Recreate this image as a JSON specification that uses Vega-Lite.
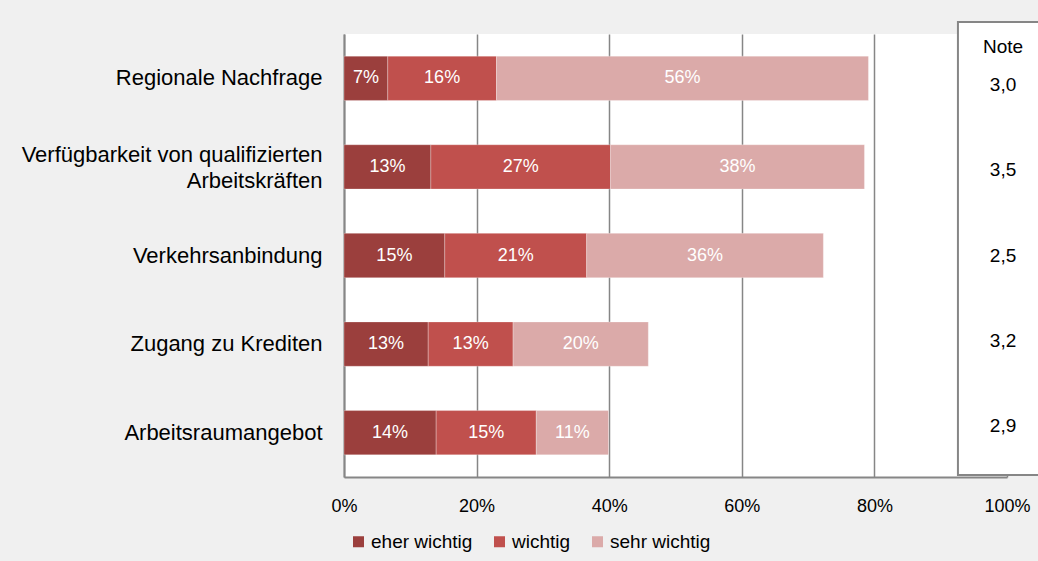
{
  "$schema": "https://vega.github.io/schema/vega-lite/v6.json",
  "width": 663,
  "height": 443,
  "autosize": {"type": "none"},
  "padding": {"left": 344, "top": 34, "right": 31, "bottom": 84},
  "background": "#f0f0f0",
  "config": {
    "view": {"fill": "white", "stroke": null},
    "font": "Liberation Sans",
    "text": {"font": "Liberation Sans"}
  },
  "datasets": {
    "bars": [
      {"category": "Regionale Nachfrage", "level": "eher wichtig", "rank": 1, "value": 0.066},
      {"category": "Regionale Nachfrage", "level": "wichtig", "rank": 2, "value": 0.164},
      {"category": "Regionale Nachfrage", "level": "sehr wichtig", "rank": 3, "value": 0.561},
      {"category": "Verfügbarkeit von qualifizierten Arbeitskräften", "level": "eher wichtig", "rank": 1, "value": 0.131},
      {"category": "Verfügbarkeit von qualifizierten Arbeitskräften", "level": "wichtig", "rank": 2, "value": 0.271},
      {"category": "Verfügbarkeit von qualifizierten Arbeitskräften", "level": "sehr wichtig", "rank": 3, "value": 0.383},
      {"category": "Verkehrsanbindung", "level": "eher wichtig", "rank": 1, "value": 0.152},
      {"category": "Verkehrsanbindung", "level": "wichtig", "rank": 2, "value": 0.214},
      {"category": "Verkehrsanbindung", "level": "sehr wichtig", "rank": 3, "value": 0.357},
      {"category": "Zugang zu Krediten", "level": "eher wichtig", "rank": 1, "value": 0.127},
      {"category": "Zugang zu Krediten", "level": "wichtig", "rank": 2, "value": 0.128},
      {"category": "Zugang zu Krediten", "level": "sehr wichtig", "rank": 3, "value": 0.204},
      {"category": "Arbeitsraumangebot", "level": "eher wichtig", "rank": 1, "value": 0.139},
      {"category": "Arbeitsraumangebot", "level": "wichtig", "rank": 2, "value": 0.151},
      {"category": "Arbeitsraumangebot", "level": "sehr wichtig", "rank": 3, "value": 0.109}
    ],
    "notes": [
      {"category": "Regionale Nachfrage", "note": "3,0"},
      {"category": "Verfügbarkeit von qualifizierten Arbeitskräften", "note": "3,5"},
      {"category": "Verkehrsanbindung", "note": "2,5"},
      {"category": "Zugang zu Krediten", "note": "3,2"},
      {"category": "Arbeitsraumangebot", "note": "2,9"}
    ]
  },
  "layer": [
    {
      "data": {"name": "bars"},
      "transform": [
        {"stack": "value", "groupby": ["category"], "sort": [{"field": "rank", "order": "ascending"}], "as": ["v0", "v1"]},
        {"calculate": "(datum.v0 + datum.v1) / 2", "as": "mid"}
      ],
      "encoding": {
        "y": {
          "field": "category",
          "type": "nominal",
          "sort": null,
          "scale": {"paddingInner": 0.5, "paddingOuter": 0.25},
          "axis": {
            "title": null,
            "domain": true,
            "domainColor": "#868686",
            "domainWidth": 2,
            "ticks": false,
            "grid": false,
            "labelFontSize": 22,
            "labelColor": "black",
            "labelPadding": 22,
            "labelLineHeight": 26,
            "labelLimit": 400,
            "labelOffset": {"condition": {"test": "datum.value == 'Verfügbarkeit von qualifizierten Arbeitskräften'", "value": -12}, "value": 0},
            "labelExpr": "datum.value == 'Verfügbarkeit von qualifizierten Arbeitskräften' ? ['Verfügbarkeit von qualifizierten', 'Arbeitskräften'] : datum.label"
          }
        }
      },
      "layer": [
        {
          "mark": {"type": "bar", "stroke": "white", "strokeWidth": 0.8, "strokeOpacity": 0.35},
          "encoding": {
            "x": {
              "field": "v0",
              "type": "quantitative",
              "scale": {"domain": [0, 1], "nice": false},
              "axis": {
                "title": null,
                "format": ".0%",
                "values": [0, 0.2, 0.4, 0.6, 0.8, 1],
                "grid": true,
                "gridColor": "#868686",
                "gridWidth": 1.5,
                "domain": true,
                "domainColor": "#868686",
                "domainWidth": 2,
                "ticks": false,
                "labelFontSize": 18,
                "labelColor": "black",
                "labelPadding": 20,
                "labelFlush": false
              }
            },
            "x2": {"field": "v1"},
            "color": {
              "field": "level",
              "type": "nominal",
              "scale": {"domain": ["eher wichtig", "wichtig", "sehr wichtig"], "range": ["#9b3f3d", "#c0504d", "#dbaaa9"]},
              "legend": {
                "orient": "none",
                "legendX": 5,
                "legendY": 498,
                "direction": "horizontal",
                "title": null,
                "symbolType": "square",
                "symbolSize": 121,
                "symbolStrokeWidth": 0,
                "labelFontSize": 19,
                "labelColor": "black",
                "columnPadding": 17,
                "labelOffset": 3
              }
            }
          }
        },
        {
          "mark": {"type": "text", "color": "white", "fontSize": 18, "align": "center", "baseline": "middle"},
          "encoding": {
            "x": {"field": "mid", "type": "quantitative", "scale": {"domain": [0, 1], "nice": false}},
            "text": {"field": "value", "type": "quantitative", "format": ".0%"}
          }
        }
      ]
    },
    {
      "data": {"values": [{}]},
      "layer": [
        {
          "mark": {"type": "rect", "fill": "white", "stroke": "#868686", "strokeWidth": 2},
          "encoding": {
            "x": {"datum": 0.926, "type": "quantitative", "scale": {"domain": [0, 1], "nice": false}},
            "x2": {"datum": 1.1},
            "y": {"datum": 0.0045, "type": "quantitative", "scale": {"domain": [0, 1], "nice": false, "zero": false}, "axis": null},
            "y2": {"datum": 1.027}
          }
        },
        {
          "mark": {"type": "text", "fontSize": 19, "color": "black", "text": "Note", "align": "center", "baseline": "middle"},
          "encoding": {
            "x": {"datum": 0.994, "type": "quantitative", "scale": {"domain": [0, 1], "nice": false}},
            "y": {"datum": 0.971, "type": "quantitative"}
          }
        }
      ]
    },
    {
      "data": {"name": "notes"},
      "mark": {"type": "text", "fontSize": 19, "color": "black", "align": "center", "baseline": "middle"},
      "encoding": {
        "y": {"field": "category", "type": "nominal", "sort": null, "scale": {"type": "point", "padding": 0.6}, "axis": null},
        "x": {"datum": 0.994, "type": "quantitative", "scale": {"domain": [0, 1], "nice": false}},
        "text": {"field": "note", "type": "nominal"}
      }
    }
  ],
  "resolve": {"scale": {"y": "independent"}}
}
